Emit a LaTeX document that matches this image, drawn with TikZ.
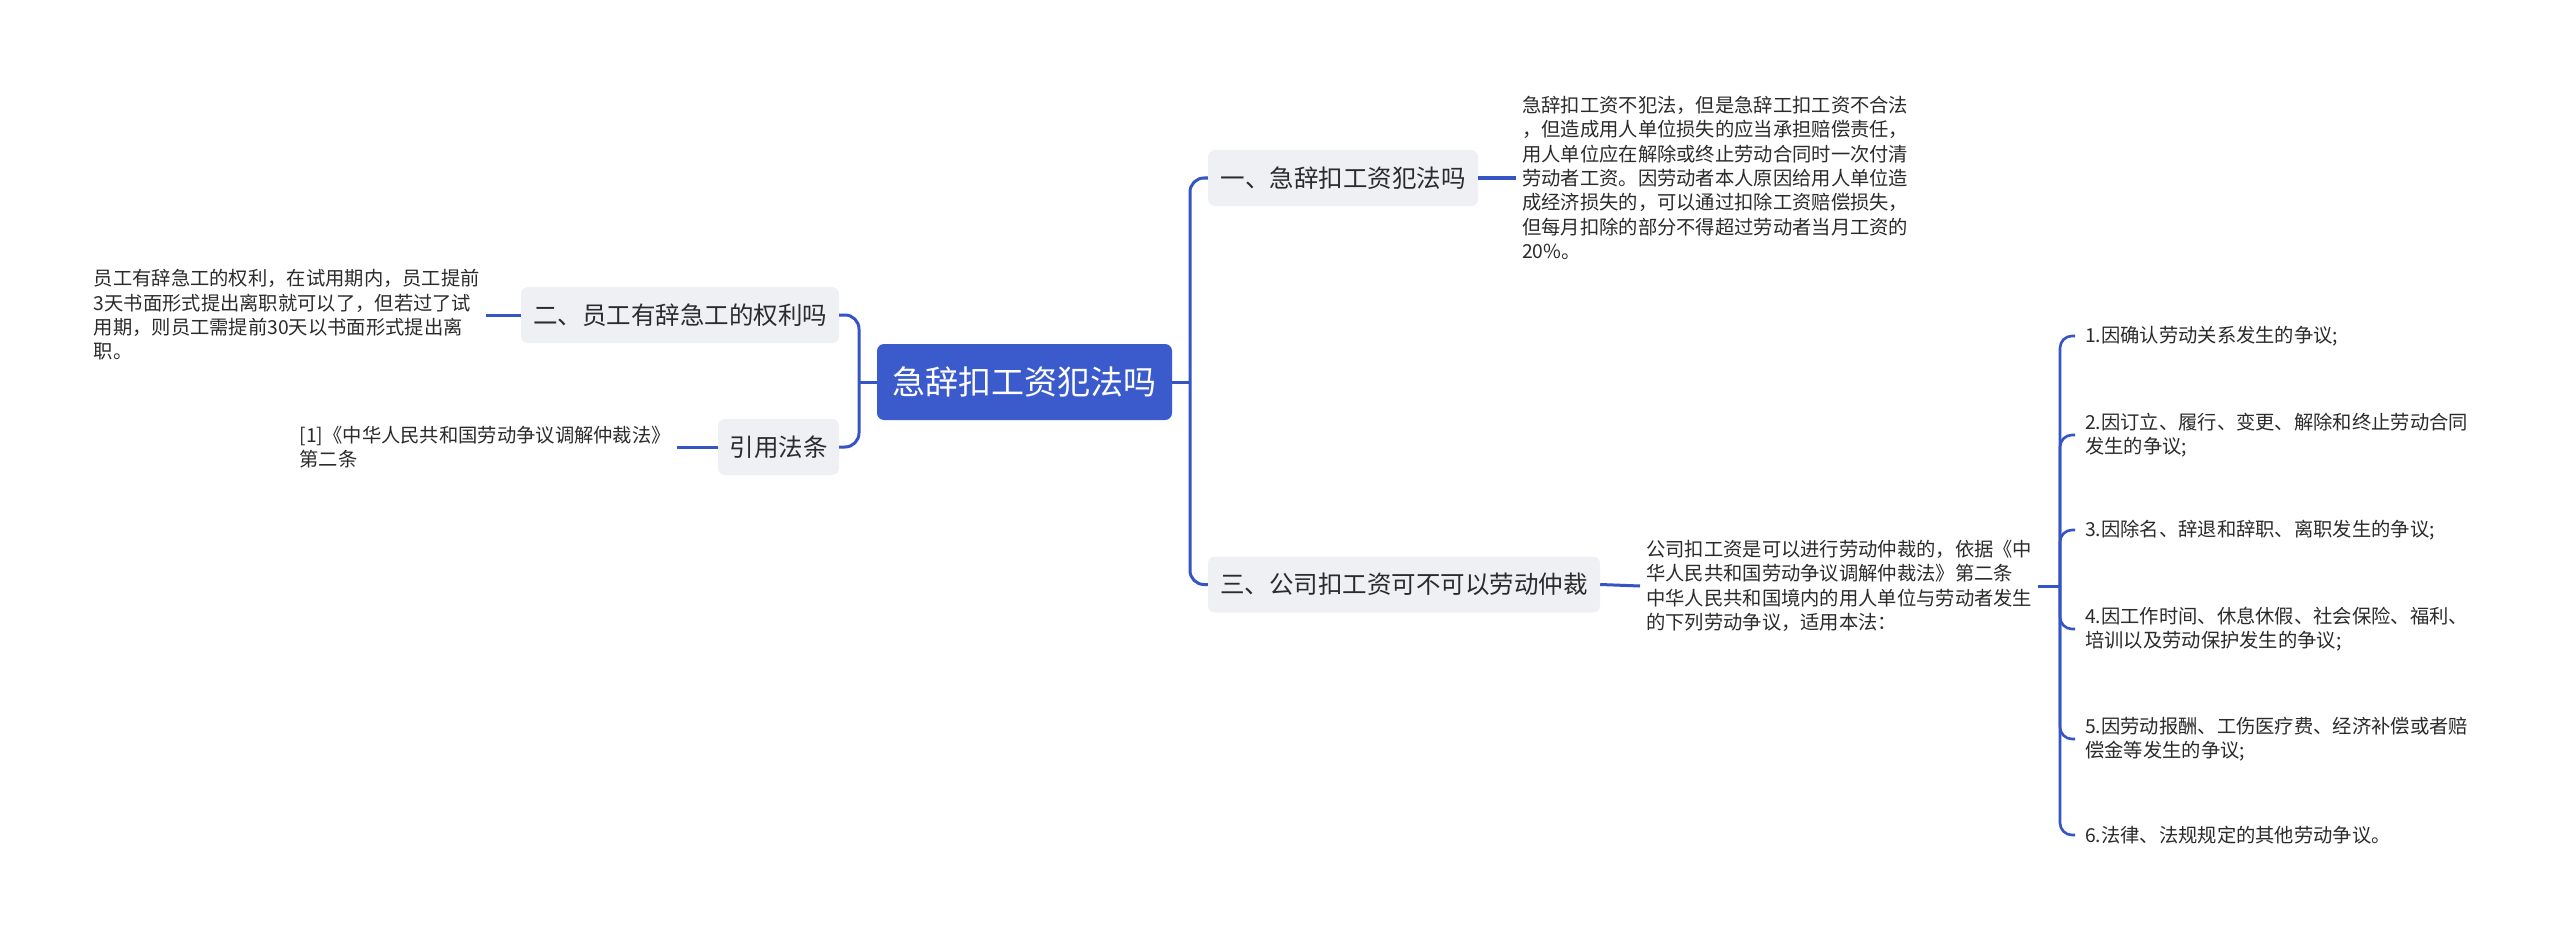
\documentclass[tikz,border=0pt]{standalone}
\usepackage{fontspec}
\setmainfont{Noto Sans CJK SC}
\definecolor{mainblue}{HTML}{3B5BCC}
\definecolor{linkblue}{HTML}{3555C4}
\definecolor{boxgray}{HTML}{EEF0F4}
\definecolor{txt}{HTML}{2B2B2B}
\begin{document}
\begin{tikzpicture}[x=1pt,y=-1pt,
  rootbox/.style={rectangle, rounded corners=7pt, fill=mainblue, text=white, minimum width=295pt, minimum height=76pt, inner sep=0pt, font=\fontsize{33}{38}\selectfont},
  branchbox/.style={rectangle, rounded corners=7pt, fill=boxgray, text=txt, minimum height=56pt, inner sep=0pt, font=\fontsize{24.5}{28}\selectfont},
  detail/.style={align=left, text=txt, inner xsep=6pt, inner ysep=0pt, font=\fontsize{19.3}{24.4}\selectfont},
  item/.style={detail, anchor=west, inner xsep=10pt},
  conn/.style={draw=linkblue, line width=3pt},
  brk/.style={draw=linkblue, line width=2.6pt, rounded corners=12pt}
]
\useasboundingbox (0,0) rectangle (2560,939);
\fill[white] (0,0) rectangle (2560,939);

\node[rootbox] (root) at (1024.5,382) {急辞扣工资犯法吗};
\node[branchbox, minimum width=270pt] (b1) at (1343,178) {一、急辞扣工资犯法吗};
\node[branchbox, minimum width=318pt] (b2) at (680,315) {二、员工有辞急工的权利吗};
\node[branchbox, minimum width=121pt] (b3) at (778.5,447) {引用法条};
\node[branchbox, minimum width=392pt] (b4) at (1404,584.5) {三、公司扣工资可不可以劳动仲裁};

\node[detail, anchor=west] (d1) at (1516,178) {急辞扣工资不犯法，但是急辞工扣工资不合法\\，但造成用人单位损失的应当承担赔偿责任，\\用人单位应在解除或终止劳动合同时一次付清\\劳动者工资。因劳动者本人原因给用人单位造\\成经济损失的，可以通过扣除工资赔偿损失，\\但每月扣除的部分不得超过劳动者当月工资的\\20\%。};
\node[detail, anchor=east] (d2) at (486,315) {员工有辞急工的权利，在试用期内，员工提前\\3天书面形式提出离职就可以了，但若过了试\\用期，则员工需提前30天以书面形式提出离\\职。};
\node[detail, anchor=east] (d3) at (677,447) {[1]《中华人民共和国劳动争议调解仲裁法》\\第二条};
\node[detail, anchor=west] (d4) at (1640,586) {公司扣工资是可以进行劳动仲裁的，依据《中\\华人民共和国劳动争议调解仲裁法》第二条\\中华人民共和国境内的用人单位与劳动者发生\\的下列劳动争议，适用本法：};

\node[item] (i1) at (2075,336) {1.因确认劳动关系发生的争议;};
\node[item] (i2) at (2075,435) {2.因订立、履行、变更、解除和终止劳动合同\\发生的争议;};
\node[item] (i3) at (2075,530) {3.因除名、辞退和辞职、离职发生的争议;};
\node[item] (i4) at (2075,629) {4.因工作时间、休息休假、社会保险、福利、\\培训以及劳动保护发生的争议;};
\node[item] (i5) at (2075,739) {5.因劳动报酬、工伤医疗费、经济补偿或者赔\\偿金等发生的争议;};
\node[item] (i6) at (2075,835) {6.法律、法规规定的其他劳动争议。};

\coordinate (jr) at (1190,382);
\coordinate (jl) at (859,382);
\coordinate (jb) at (2060,586);

\draw[conn] (root.east) -- (jr);
\draw[conn, rounded corners=14pt] (jr) |- (b1.west);
\draw[conn, rounded corners=14pt] (jr) |- (b4.west);
\draw[conn] (root.west) -- (jl);
\draw[conn, rounded corners=14pt] (jl) |- (b2.east);
\draw[conn, rounded corners=14pt] (jl) |- (b3.east);
\draw[conn] (b1.east) -- (d1.west);
\draw[conn] (b2.west) -- (d2.east);
\draw[conn] (b3.west) -- (d3.east);
\draw[conn] (b4.east) -- (d4.west);
\draw[conn] (d4.east) -- (jb);
\foreach \n in {i1,i2,i3,i4,i5,i6} {
  \draw[brk] (jb) |- (\n.west);
}
\end{tikzpicture}
\end{document}
